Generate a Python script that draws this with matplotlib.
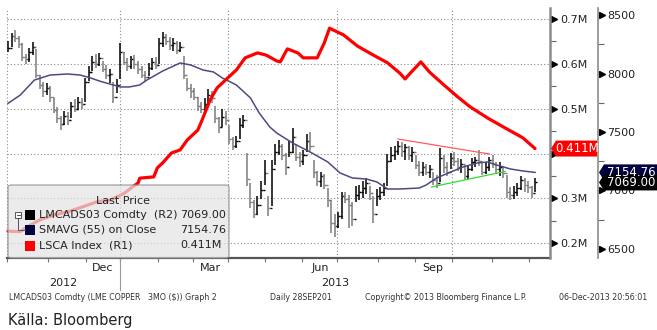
import numpy as np
import pandas as pd
import matplotlib
matplotlib.use("Agg")
import matplotlib.pyplot as plt
from matplotlib.patches import Rectangle, Polygon, FancyBboxPatch
from matplotlib.lines import Line2D
from matplotlib.transforms import IdentityTransform

# LME copper 3M, bars every second trading day from 1 Oct 2012
close = [8220, 8320, 8300, 8250, 8140, 8120, 8180, 8230, 7990, 7900,
         7850, 7880, 7800, 7690, 7620, 7570, 7640, 7600, 7720, 7700,
         7760, 7740, 7930, 8010, 8100, 8080, 8130, 8040, 7990, 8000,
         7800, 7900, 8180, 8100, 8060, 8120, 8080, 8040, 7990, 7970,
         8050, 8100, 8070, 8260, 8310, 8280, 8240, 8260, 8200, 8230,
         7990, 7880, 7850, 7800, 7720, 7700, 7740, 7820, 7790, 7620,
         7540, 7630, 7600, 7440, 7380, 7420, 7560, 7600, 7100, 6900,
         6800, 6880, 7000, 7150, 6850, 7180, 7330, 7380, 7300, 7200,
         7330, 7460, 7290, 7250, 7300, 7420, 7380, 7160, 7080, 7120,
         7050, 6920, 6720, 6700, 6780, 6950, 6930, 6880, 6760, 6960,
         6990, 7020, 7060, 6980, 6800, 6950, 6990, 7020, 7250, 7300,
         7340, 7380, 7340, 7370, 7300, 7330, 7220, 7160, 7200, 7160,
         7180, 7090, 7060, 7280, 7200, 7160, 7280, 7250, 7200, 7230,
         7120, 7180, 7240, 7260, 7250, 7160, 7200, 7260, 7230, 7180,
         7200, 7150, 6990, 6960, 6990, 7020, 7090, 7050, 7030, 6980,
         7069.00]
high = [8280, 8350, 8370, 8320, 8260, 8170, 8220, 8270, 8210, 7990,
        7930, 7920, 7890, 7790, 7710, 7640, 7680, 7670, 7760, 7780,
        7800, 7790, 7960, 8060, 8150, 8170, 8175, 8110, 8070, 8040,
        7930, 7950, 8260, 8180, 8130, 8150, 8160, 8110, 8060, 8020,
        8090, 8130, 8140, 8300, 8355, 8340, 8310, 8300, 8280, 8270,
        8150, 7960, 7910, 7880, 7800, 7760, 7790, 7870, 7850, 7720,
        7630, 7700, 7680, 7560, 7460, 7470, 7620, 7645, 7320, 7060,
        6920, 6950, 7080, 7260, 6950, 7260, 7400, 7430, 7400, 7320,
        7420, 7530, 7400, 7330, 7350, 7480, 7500, 7260, 7170, 7160,
        7140, 7020, 6920, 6800, 6820, 6990, 6990, 6960, 6900, 7040,
        7050, 7080, 7107, 7040, 6950, 7010, 7030, 7060, 7310, 7370,
        7380, 7420, 7415, 7400, 7380, 7370, 7300, 7250, 7240, 7230,
        7220, 7160, 7130, 7363, 7300, 7240, 7320, 7330, 7280, 7270,
        7220, 7220, 7280, 7290, 7350, 7240, 7240, 7290, 7300, 7240,
        7240, 7210, 7130, 7030, 7040, 7060, 7120, 7110, 7080, 7040,
        7110]
low = [8180, 8230, 8270, 8220, 8110, 8080, 8100, 8160, 7960, 7870,
       7800, 7820, 7760, 7660, 7580, 7520, 7560, 7560, 7620, 7670,
       7690, 7700, 7760, 7940, 8020, 8050, 8060, 8010, 7950, 7920,
       7750, 7830, 7950, 8070, 8020, 8040, 8040, 8000, 7960, 7930,
       7980, 8030, 8040, 8080, 8230, 8240, 8200, 8190, 8170, 8180,
       7950, 7850, 7790, 7770, 7680, 7660, 7680, 7740, 7750, 7580,
       7490, 7540, 7560, 7400, 7350, 7360, 7440, 7530, 7040, 6850,
       6765, 6790, 6930, 7050, 6780, 6870, 7220, 7300, 7260, 7130,
       7290, 7320, 7250, 7200, 7220, 7330, 7340, 7110, 7040, 7030,
       7010, 6860, 6640, 6603, 6680, 6760, 6890, 6680, 6700, 6900,
       6920, 6940, 6970, 6920, 6720, 6870, 6920, 6950, 7040, 7240,
       7260, 7300, 7290, 7260, 7260, 7240, 7180, 7120, 7120, 7130,
       7110, 7050, 7021, 7070, 7150, 7120, 7180, 7210, 7170, 7150,
       7090, 7100, 7170, 7200, 7210, 7130, 7140, 7170, 7190, 7140,
       7120, 7110, 6940, 6919, 6930, 6950, 7000, 6990, 6980, 6936,
       6990]

# 55-day simple moving average (trading-day position, value)
sma_day = [0, 7, 15, 24, 34, 41, 47, 52, 58, 64, 69, 75, 79, 88, 98, 104,
           111, 117, 122, 130, 138, 143, 149, 153, 162, 172, 182, 189, 196,
           204, 210, 216, 223, 234, 238, 244, 252, 259, 267, 273, 278, 286,
           293, 300]
sma_val = [7745, 7816, 7944, 7987, 7996, 7987, 7962, 7936, 7910, 7885, 7885,
           7902, 7944, 8021, 8090, 8073, 8030, 8013, 7962, 7902, 7791, 7662,
           7543, 7491, 7406, 7329, 7244, 7150, 7107, 7098, 7073, 7013, 7013,
           7021, 7047, 7107, 7158, 7201, 7235, 7244, 7218, 7184, 7167, 7154.76]

# LME copper stocks, LSCA Index (thousand tonnes)
lsca_day = [0, 7, 11, 18, 26, 34, 43, 51, 58, 66, 71, 74, 75, 83, 85, 88, 93,
            98, 102, 108, 110, 115, 119, 125, 130, 135, 142, 147, 153, 155,
            159, 165, 168, 176, 180, 183, 191, 199, 208, 216, 223, 226, 229,
            235, 240, 248, 256, 263, 273, 282, 293, 300]
lsca_val = [227, 226, 237, 252, 263, 270, 282, 293, 296, 311, 326, 334, 345,
            348, 368, 379, 401, 408, 430, 452, 470, 519, 546, 568, 586, 613,
            624, 619, 606, 604, 633, 624, 613, 613, 646, 679, 664, 639, 619,
            602, 579, 566, 579, 604, 581, 553, 526, 504, 479, 459, 435, 411]

# hand-drawn trend lines
resist_day, resist_val = [222, 274], [7440, 7312]
support_day, support_val = [241, 283], [7030, 7163]

lme_holidays = ["2012-12-25", "2012-12-26", "2013-01-01", "2013-03-29",
                "2013-04-01", "2013-05-06", "2013-05-27", "2013-08-26"]

W, H = 657, 330
fig = plt.figure(figsize=(W / 100, H / 100), dpi=100)
fig.patch.set_facecolor("white")


def fx(x):
    return x / W


def fy(y):
    return 1 - y / H


ax = fig.add_axes([0, fy(258), 550 / W, 250 / H])
ax2 = ax.twinx()
x0, x1 = -4.55, 308.5
ax.set_xlim(x0, x1)
ax.set_ylim(6423, 8560)
ax2.set_ylim(167.3, 724.0)

# trading calendar
days = pd.bdate_range("2012-10-01", "2013-12-06")
days = days[~days.isin(pd.to_datetime(lme_holidays))]
mstart = np.flatnonzero(np.r_[True, days.month[1:] != days.month[:-1]])
mbound = np.r_[mstart, len(days)] - 0.5

# grid
dot = (0, (1, 2))
for j in mstart:
    if days[j].month in (1, 4, 7, 10):
        ax.axvline(j - 0.5, ls=dot, color="#8a8a8a", lw=0.8, zorder=0)
lo2, hi2 = ax2.get_ylim()
for v in range(200, 701, 100):
    f = (v - lo2) / (hi2 - lo2)
    ax.plot([-0.5, x1], [f, f], transform=ax.get_xaxis_transform(),
            ls=dot, color="#8a8a8a", lw=0.8, zorder=0)

# OHLC-style bars
bx = np.arange(0, 2 * len(close), 2)
c = np.array(close, float)
prev = np.r_[c[0], c[:-1]]
cols = np.where(c >= prev, "#000000", "#7c7c7c")
ax.vlines(bx, low, high, colors=cols, lw=1.1, zorder=2)
ax.hlines(c, bx, bx + 1.1, colors=cols, lw=1.0, zorder=2)
ax.hlines(prev[1:], bx[1:] - 1.1, bx[1:], colors=cols[1:], lw=1.0, zorder=2)

ax.plot(sma_day, sma_val, color="#4b4b82", lw=1.1, zorder=3)
ax.plot(resist_day, resist_val, color="#ff5c5c", lw=0.9, zorder=3)
ax.plot(support_day, support_val, color="#2fdc2f", lw=0.9, zorder=3)
ax2.plot(lsca_day, lsca_val, color="#ff0000", lw=2.3,
         solid_capstyle="round", solid_joinstyle="round", zorder=3)

# spines
for s in ("left", "top"):
    ax.spines[s].set_visible(False)
    ax2.spines[s].set_visible(False)
ax2.spines["bottom"].set_visible(False)
ax.spines["bottom"].set_bounds(-0.5, x1)
ax.spines["bottom"].set_color("#555555")
ax.spines["bottom"].set_linewidth(1.6)
ax2.spines["right"].set_color("#8c8c8c")
ax2.spines["right"].set_linewidth(1.8)

# right axes: R1 stocks, R2 price
ax.yaxis.tick_right()
ax.spines["right"].set_position(("axes", 598 / 550))
ax.spines["right"].set_color("#8c8c8c")
ax.spines["right"].set_linewidth(1.2)

r1 = list(range(200, 701, 100))
ax2.set_yticks(r1)
# the 0.4M label sits under the last-value tag
ax2.set_yticklabels(["" if v == 400 else f"{v / 1000:.1f}M" for v in r1])
ax2.set_yticks(list(range(250, 700, 100)), minor=True)
ax2.tick_params(axis="y", which="major", length=0, pad=7.5, labelsize=8,
                labelcolor="#222222")
ax2.tick_params(axis="y", which="minor", length=4, width=0.8, color="#666666")
ax2.plot(np.full(len(r1), 554 / 550), r1, ">", ms=4.5, color="black",
         transform=ax2.get_yaxis_transform(), clip_on=False)

r2 = list(range(6500, 8501, 500))
ax.set_yticks(r2)
ax.set_yticklabels([str(v) for v in r2])
ax.set_yticks(list(range(6750, 8500, 500)), minor=True)
ax.tick_params(axis="y", which="major", length=0, pad=6.5, labelsize=8,
               labelcolor="#222222")
ax.tick_params(axis="y", which="minor", length=4, width=0.8, color="#666666")
ax.plot(np.full(len(r2), 602 / 550), r2, ">", ms=4.5, color="black",
        transform=ax.get_yaxis_transform(), clip_on=False)

# month ticks and labels (only whole months get a name)
ax.set_xticks(mstart - 0.5)
ax.set_xticklabels([])
ax.tick_params(axis="x", length=3, width=0.8, color="#777777")
for k, j in enumerate(mstart[:-1]):
    if days[j].month in (12, 3, 6, 9):
        mid = (mbound[k] + mbound[k + 1]) / 2
        ax.text(mid, -0.04, days[j].strftime("%b"), ha="center", va="center",
                size=8, color="#222222", transform=ax.get_xaxis_transform())
jan = [j for j in mstart if days[j].month == 1][0] - 0.5
ax.plot([jan, jan], [0, -0.128], color="#999999", lw=0.8,
        transform=ax.get_xaxis_transform(), clip_on=False)
ax.text((-0.5 + jan) / 2, -0.1, "2012", ha="center", va="center", size=8,
        color="#222222", transform=ax.get_xaxis_transform())
ax.text((jan + x1) / 2, -0.1, "2013", ha="center", va="center", size=8,
        color="#222222", transform=ax.get_xaxis_transform())

# legend panel
fig.add_artist(FancyBboxPatch((fx(8), fy(258)), fx(221), 73 / H,
                              boxstyle="round,pad=0,rounding_size=0.006",
                              fc="#e4e4e4", ec="#8c8c8c", lw=1, alpha=0.72,
                              transform=fig.transFigure))
fig.text(fx(123), fy(201.5), "Last Price", ha="center", va="center", size=8,
         color="#222222")
rows = [("black", "LMCADS03 Comdty  (R2)", f"{close[-1]:.2f}"),
        ("#000040", "SMAVG (55) on Close", f"{sma_val[-1]:.2f}"),
        ("#ff0000", "LSCA Index  (R1)", f"{lsca_val[-1] / 1000:.3f}M")]
for n, (col, name, val) in enumerate(rows):
    yc = 214.5 + n * 15.5
    fig.add_artist(Rectangle((fx(25), fy(yc + 5)), fx(10), 10 / H, fc=col,
                             ec="none", transform=fig.transFigure))
    fig.text(fx(39), fy(yc), name, va="center", size=8, color="#222222")
    fig.text(fx(180), fy(yc), val, va="center", size=8, color="#222222")
fig.add_artist(Rectangle((fx(15), fy(217.5)), fx(6), 6 / H, fc="white",
                         ec="#555555", lw=0.7, transform=fig.transFigure))
fig.add_artist(Line2D([fx(16.5), fx(19.5)], [fy(214.5)] * 2, color="#555555",
                      lw=0.7, transform=fig.transFigure))
fig.add_artist(Line2D([fx(18), fx(18), fx(25)], [fy(217.5), fy(230), fy(230)],
                      color="#555555", lw=0.7, transform=fig.transFigure))


# value tags on the right axes
def tag(yc, xa, xb, face, text):
    pts = [(xa, yc), (xa + 5, yc + 8), (xb, yc + 8), (xb, yc - 8),
           (xa + 5, yc - 8)]
    fig.add_artist(Polygon(pts, closed=True, fc=face, ec="none",
                           transform=IdentityTransform()))
    fig.text((xa + 5 + xb) / 2 + 1, yc, text, ha="center", va="center",
             size=8.5, color="white", transform=IdentityTransform())


y_l = ax2.transData.transform((0, lsca_val[-1]))[1]
y_s = ax.transData.transform((0, sma_val[-1]))[1]
y_c = ax.transData.transform((0, close[-1]))[1]
tag(y_l, 551, 597, "#ff0000", f"{lsca_val[-1] / 1000:.3f}M")
tag(y_s, 599, 657, "#000040", f"{sma_val[-1]:.2f}")
tag(y_c, 599, 657, "#000000", f"{close[-1]:.2f}")

# footer
foot = dict(size=5.7, color="#333333", va="center")
fig.text(fx(9), fy(298), "LMCADS03 Comdty (LME COPPER", **foot)
fig.text(fx(148), fy(298), "3MO ($)) Graph 2", **foot)
fig.text(fx(270), fy(298), "Daily 28SEP201", **foot)
fig.text(fx(365), fy(298), "Copyright\u00a9 2013 Bloomberg Finance L.P.", **foot)
fig.text(fx(559), fy(298), "06-Dec-2013 20:56:01", **foot)
fig.text(fx(8), fy(321), "Källa: Bloomberg", size=10.5, va="center",
         color="#222222", family=["Liberation Sans Narrow", "DejaVu Sans"])

fig.savefig("out.png", dpi=100)
